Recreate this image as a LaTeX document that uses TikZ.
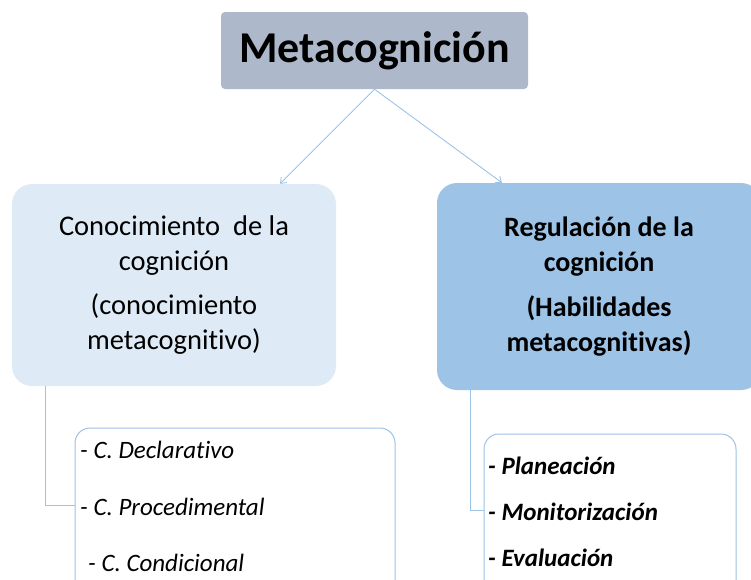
\documentclass[tikz,border=0pt]{standalone}
\usepackage{fontspec}
\setmainfont{Carlito}[Ligatures=NoCommon]
\usetikzlibrary{arrows.meta}
\definecolor{titlegray}{HTML}{ADB9CA}
\definecolor{paleblue}{HTML}{DEEBF7}
\definecolor{midblue}{HTML}{9DC3E6}
\definecolor{lineblue}{HTML}{9DC3E6}
\tikzset{
  topbox/.style={draw=none, fill=titlegray, rounded corners=4pt, minimum width=307pt, minimum height=77pt, font=\fontsize{44}{50}\selectfont\bfseries},
  mainbox/.style={draw=none, rounded corners=20pt, minimum width=324pt, minimum height=202pt, align=center, font=\fontsize{28.5}{35}\selectfont},
  listbox/.style={draw=lineblue, line width=1pt, fill=white, rounded corners=15pt},
  item/.style={anchor=base west, inner sep=0pt, font=\fontsize{25}{28}\selectfont\itshape},
  bolditem/.style={item, font=\fontsize{25}{28}\selectfont\bfseries\itshape},
  link/.style={draw=lineblue, line width=0.9pt},
}
\begin{document}
\begin{tikzpicture}[x=1pt, y=-1pt]
\useasboundingbox (0,0) rectangle (751,579);
\clip (0,0) rectangle (751,579);
% Title
\node[topbox] (meta) at (374.5,50.5) {Metacognición};

% Main branches
\node[mainbox, fill=paleblue] (conoc) at (174,285) {Conocimiento\ \ de la\\cognición\\[9pt](conocimiento\\metacognitivo)};
\node[mainbox, fill=midblue, minimum height=207pt, font=\fontsize{28}{35}\selectfont\bfseries] (regul) at (599,286.5) {Regulación de la\\cognición\\[10pt](Habilidades\\metacognitivas)};

% Lists
\node[listbox, minimum width=320pt, minimum height=170pt] (conocList) at (235,513) {};
\node[listbox, minimum width=252pt, minimum height=165pt] (regulList) at (610,516.5) {};
\node[item] (decl) at (80,458) {- C. Declarativo};
\node[item] (proc) at (80,515) {- C. Procedimental};
\node[item] (cond) at (88,571) {- C. Condicional};
\node[bolditem] (plan) at (488,474) {- Planeación};
\node[bolditem] (moni) at (488,520) {- Monitorización};
\node[bolditem] (eval) at (488,566) {- Evaluación};

% Arrows
\coordinate (split) at (meta.south);
\draw[link, -{Straight Barb[length=5pt, width=8pt]}] (split) -- (conoc.north -| 280,0);
\draw[link, -{Straight Barb[length=5pt, width=8pt]}] (split) -- (regul.north -| 502,0);

% Connectors
\draw[link] (conoc.south -| 45,0) |- (conocList.west |- 0,505);
\draw[link] (regul.south -| 470,0) |- (regulList.west |- 0,510);
\end{tikzpicture}
\end{document}
